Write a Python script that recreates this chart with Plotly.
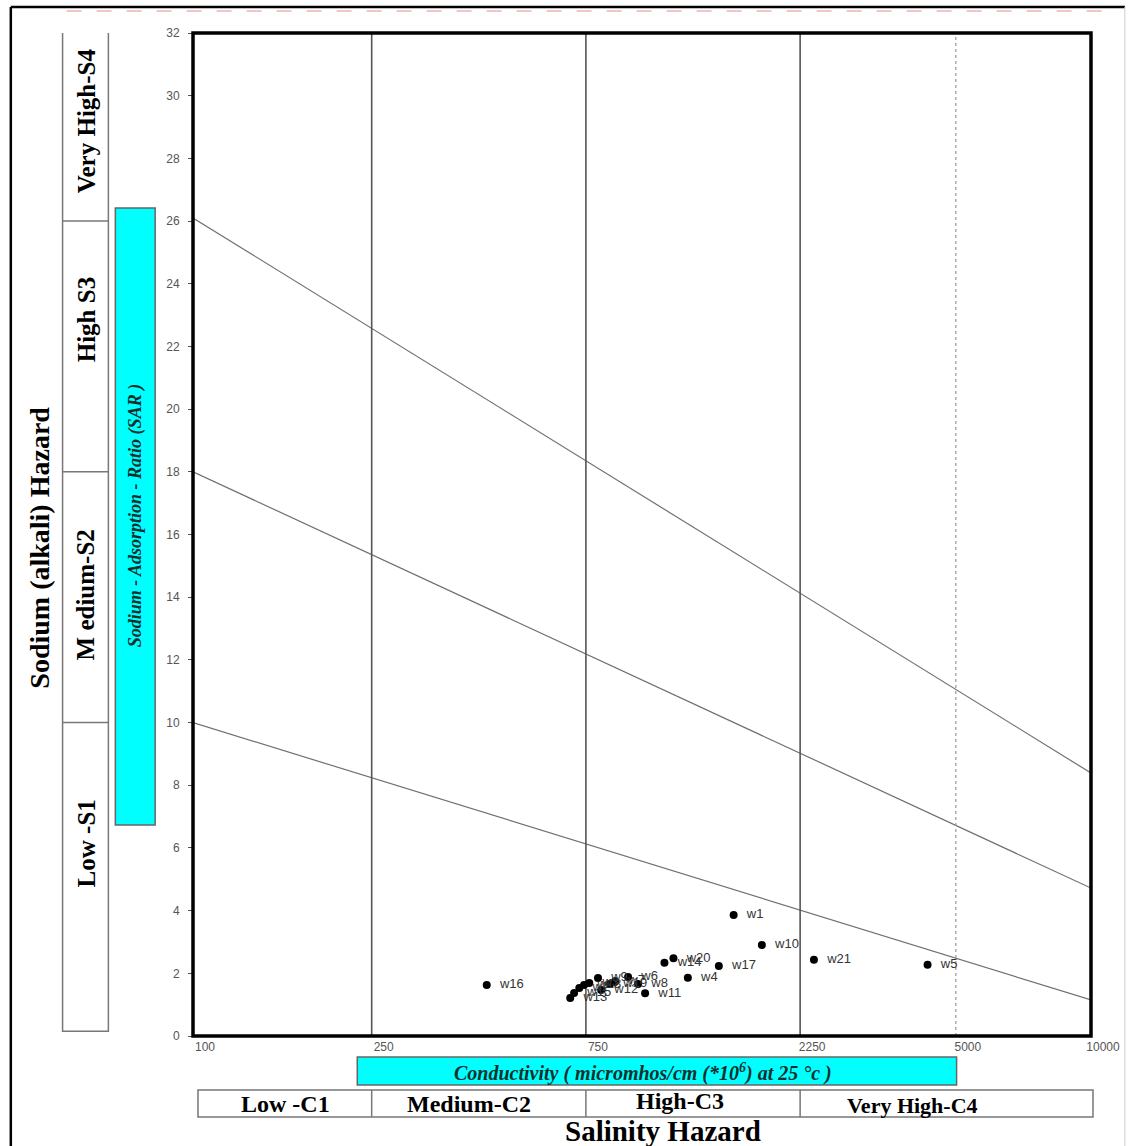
import plotly.graph_objects as go

# ---------------- data ----------------
sample_ids = ["w1", "w4", "w5", "w10", "w11", "w14", "w16", "w17", "w20", "w21",
              "w13", "w15", "w2", "w18", "w3", "w9", "w12", "w19", "w7", "w6", "w8"]
ec_values = [1600, 1265, 4325, 1849, 1016, 1122, 451, 1483, 1175, 2415,
             692, 706, 725, 743, 763, 798, 811, 849, 871, 931, 980]
sar_values = [3.86, 1.86, 2.27, 2.90, 1.36, 2.34, 1.63, 2.23, 2.48, 2.43,
              1.21, 1.37, 1.53, 1.63, 1.69, 1.85, 1.47, 1.66, 1.75, 1.88, 1.66]

# SAR hazard boundary lines: SAR at EC=100 and EC=10000
boundary_ec = [100, 10000]
boundary_s1_s2 = [10.0, 1.15]
boundary_s2_s3 = [18.0, 4.72]
boundary_s3_s4 = [26.1, 8.39]

# salinity class boundaries
salinity_bounds = [250, 750, 2250]
salinity_dotted = 5000

x_ticks = [100, 250, 750, 2250, 5000, 10000]
y_ticks = list(range(0, 33, 2))

sodium_classes = ["Very High-S4", "High S3", "M edium-S2", "Low -S1"]
sodium_bounds = [26, 18, 10]
salinity_classes = ["Low -C1", "Medium-C2", "High-C3", "Very High-C4"]

# ---------------- layout helpers (pixel -> paper) ----------------
L, R, T, B = 193, 1095, 33, 1036
def X(px):
    return (px - L) / (R - L)
def Y(py):
    return (B - py) / (B - T)

SERIF = "Liberation Serif, Times New Roman, serif"
SANS = "Liberation Sans, Arial, sans-serif"

fig = go.Figure()

# boundary diagonal lines
for ys in (boundary_s1_s2, boundary_s2_s3, boundary_s3_s4):
    fig.add_trace(go.Scatter(x=boundary_ec, y=ys, mode="lines",
                             line=dict(color="#707070", width=1.2),
                             hoverinfo="skip", showlegend=False))

# vertical class lines
for v in salinity_bounds:
    fig.add_trace(go.Scatter(x=[v, v], y=[0, 32], mode="lines",
                             line=dict(color="#555555", width=1.6),
                             hoverinfo="skip", showlegend=False))
fig.add_trace(go.Scatter(x=[salinity_dotted, salinity_dotted], y=[0, 32], mode="lines",
                         line=dict(color="#999999", width=1.2, dash="dot"),
                         hoverinfo="skip", showlegend=False))

# samples
fig.add_trace(go.Scatter(x=ec_values, y=sar_values, mode="markers+text",
                         text=["  " + s for s in sample_ids], textposition="middle right",
                         textfont=dict(family=SANS, size=13, color="#333333"),
                         marker=dict(color="black", size=8),
                         showlegend=False))

shapes = []
# plot frame
shapes.append(dict(type="rect", xref="paper", yref="paper", x0=0, x1=1, y0=0, y1=1,
                   line=dict(color="black", width=3.5)))
# outer page frame
shapes.append(dict(type="line", xref="paper", yref="paper", x0=X(10), x1=X(10), y0=Y(7), y1=Y(1146),
                   line=dict(color="black", width=2.5)))
shapes.append(dict(type="line", xref="paper", yref="paper", x0=X(10), x1=X(1129), y0=Y(7), y1=Y(7),
                   line=dict(color="black", width=2.5)))
shapes.append(dict(type="line", xref="paper", yref="paper", x0=X(1129), x1=X(1129), y0=Y(7), y1=Y(1146),
                   line=dict(color="#cccccc", width=1)))
# faint red dashes at top
shapes.append(dict(type="line", xref="paper", yref="paper", x0=X(66), x1=X(1110), y0=Y(11), y1=Y(11),
                   line=dict(color="#f2c4c4", width=2, dash="longdash")))

# left sodium class boxes
shapes.append(dict(type="rect", xref="paper", yref="y", x0=X(62), x1=X(108), y0=0.15, y1=32.05,
                   line=dict(color="#777777", width=1.5)))
for b in sodium_bounds:
    shapes.append(dict(type="line", xref="paper", yref="y", x0=X(62), x1=X(108), y0=b, y1=b,
                       line=dict(color="#777777", width=1.5)))
# cyan SAR bar
shapes.append(dict(type="rect", xref="paper", yref="paper", x0=X(115), x1=X(155), y0=Y(825), y1=Y(208),
                   fillcolor="#00ffff", line=dict(color="#666666", width=1.5)))
# cyan conductivity bar
shapes.append(dict(type="rect", xref="paper", yref="paper", x0=X(358), x1=X(960), y0=Y(1085), y1=Y(1057),
                   fillcolor="#00ffff", line=dict(color="#666666", width=1.5)))
# bottom salinity class boxes
shapes.append(dict(type="rect", xref="paper", yref="paper", x0=X(198), x1=X(1097), y0=Y(1117), y1=Y(1090),
                   line=dict(color="#777777", width=1.5)))
for v in salinity_bounds:
    shapes.append(dict(type="line", xref="x", yref="paper", x0=v, x1=v, y0=Y(1117), y1=Y(1090),
                       line=dict(color="#777777", width=1.5)))

annotations = []
def ann(x, y, text, size, color="black", angle=0, yref="paper"):
    annotations.append(dict(x=x, y=y, xref="paper", yref=yref, text=text, textangle=angle,
                            showarrow=False, xanchor="center", yanchor="middle",
                            font=dict(family=SERIF, size=size, color=color)))

# sodium class labels
sod_label_y = [29.2, 22.85, 14.07, 6.16]
for name, yv in zip(sodium_classes, sod_label_y):
    ann(X(86), yv, "<b>%s</b>" % name, 25, angle=-90, yref="y")
ann(X(135), Y(516), "<b><i>Sodium - Adsorption - Ratio (SAR )</i></b>", 18, "#10302c", -90)
ann(X(38), Y(548), "<b>Sodium (alkali) Hazard</b>", 28, angle=-90)
ann(X(645), Y(1072), "<b><i>Conductivity ( micromhos/cm (*10<sup>6</sup>) at 25 °c )</i></b>", 20, "#10302c")
sal_label_x = [286, 470, 682, 916]
sal_label_y = [1104, 1104, 1101, 1105]
sal_sizes = [24, 24, 24, 22]
for name, px, py, sz in zip(salinity_classes, sal_label_x, sal_label_y, sal_sizes):
    ann(X(px), Y(py), "<b>%s</b>" % name, sz)
ann(X(665), Y(1131), "<b>Salinity Hazard</b>", 29)

fig.update_layout(
    width=1132, height=1146,
    margin=dict(l=L, r=1132 - R, t=T, b=1146 - B, pad=0),
    paper_bgcolor="white", plot_bgcolor="white",
    shapes=shapes, annotations=annotations,
    xaxis=dict(type="log", range=[2, 4], tickvals=x_ticks, ticktext=[str(v) for v in x_ticks],
               showgrid=False, zeroline=False, showline=False, ticks="",
               tickfont=dict(family=SANS, size=12, color="#555555"),
               ticklabelshift=12, ticklabelstandoff=2),
    yaxis=dict(range=[0, 32], tickvals=y_ticks, showgrid=False, zeroline=False, showline=False,
               ticks="outside", ticklen=4, tickcolor="#555555",
               tickfont=dict(family=SANS, size=12, color="#555555"), ticklabelstandoff=6),
    showlegend=False,
)

fig.write_html("out.html", config={"displayModeBar": False},
               post_script="document.body.style.margin='0';document.body.style.overflow='hidden';")
